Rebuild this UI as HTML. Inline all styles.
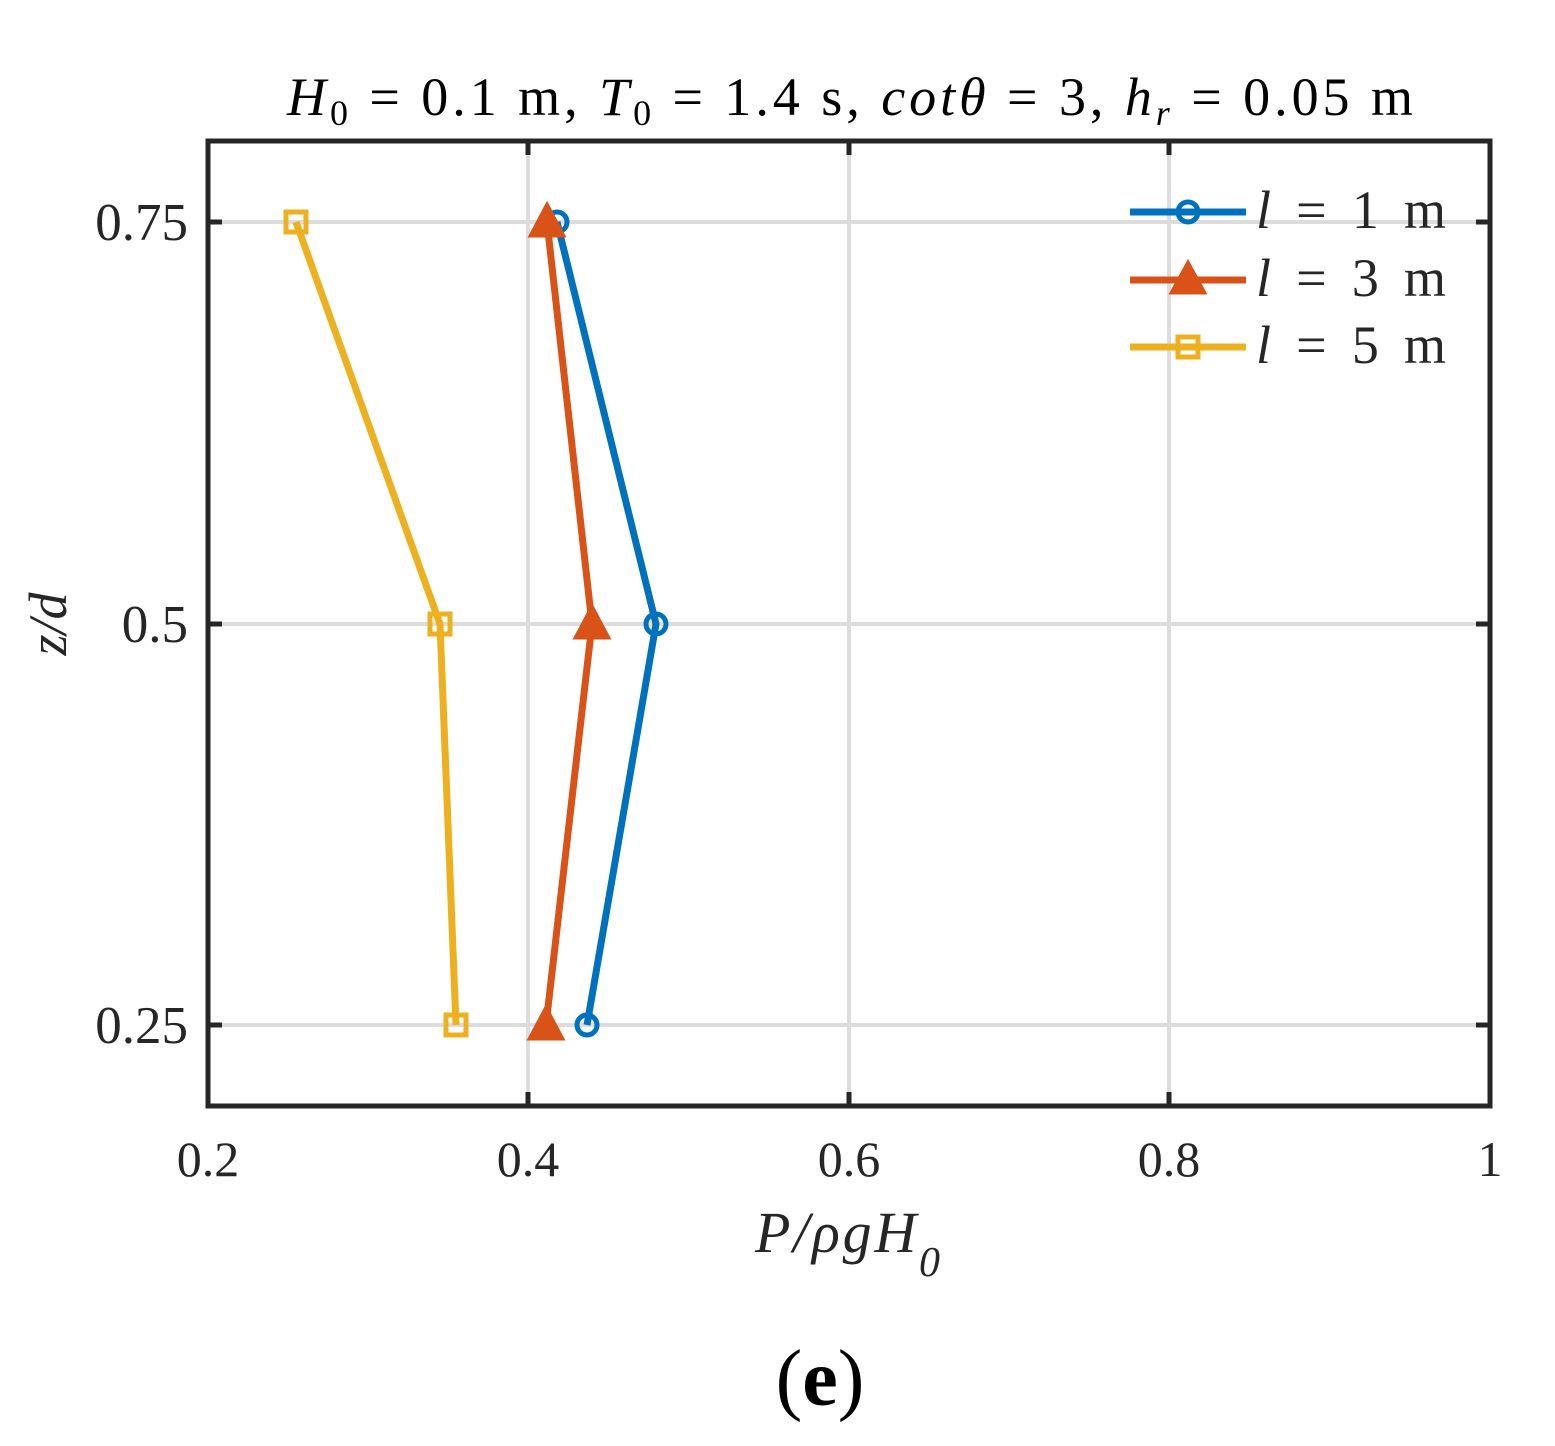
<!DOCTYPE html>
<html><head><style>body{margin:0;background:#fff}svg{display:block}</style></head><body>
<svg width="1555" height="1446" viewBox="0 0 1555 1446" xmlns="http://www.w3.org/2000/svg" font-family="Liberation Serif, serif">
<rect width="1555" height="1446" fill="#fff"/>
<g stroke="#dcdcdc" stroke-width="4">
<line x1="528" y1="141" x2="528" y2="1106"/><line x1="849" y1="141" x2="849" y2="1106"/><line x1="1169" y1="141" x2="1169" y2="1106"/>
<line x1="208" y1="222" x2="1490" y2="222"/><line x1="208" y1="624" x2="1490" y2="624"/><line x1="208" y1="1025" x2="1490" y2="1025"/>
</g>
<g stroke="#262626" stroke-width="5">
<line x1="528" y1="1106" x2="528" y2="1092"/><line x1="849" y1="1106" x2="849" y2="1092"/><line x1="1169" y1="1106" x2="1169" y2="1092"/>
<line x1="528" y1="141" x2="528" y2="155"/><line x1="849" y1="141" x2="849" y2="155"/><line x1="1169" y1="141" x2="1169" y2="155"/>
<line x1="208" y1="222" x2="222" y2="222"/><line x1="208" y1="624" x2="222" y2="624"/><line x1="208" y1="1025" x2="222" y2="1025"/>
<line x1="1490" y1="222" x2="1476" y2="222"/><line x1="1490" y1="624" x2="1476" y2="624"/><line x1="1490" y1="1025" x2="1476" y2="1025"/>
</g>
<rect x="208" y="141" width="1282" height="965" fill="none" stroke="#262626" stroke-width="5"/>
<g fill="none" stroke-width="7" stroke-linejoin="round">
<polyline points="557,222 656,624 587,1025" stroke="#0072BD"/>
<polyline points="547,222 592,624 546,1025" stroke="#D95319"/>
<polyline points="296,222 440,624 456,1025" stroke="#EDB120"/>
</g>
<g fill="none" stroke="#0072BD" stroke-width="5">
<circle cx="557" cy="222" r="10"/><circle cx="656" cy="624" r="10"/><circle cx="587" cy="1025" r="10"/>
<circle cx="1188" cy="212" r="10"/>
</g>
<g fill="#D95319" stroke="#D95319" stroke-width="3">
<polygon points="547,204 530,236 564,236"/><polygon points="592,606 575,638 609,638"/><polygon points="546,1007 529,1039 563,1039"/>
<polygon points="1188,262 1171,293 1205,293"/>
</g>
<g fill="none" stroke="#EDB120" stroke-width="5">
<rect x="286" y="212" width="20" height="20"/><rect x="430" y="614" width="20" height="20"/><rect x="446" y="1015" width="20" height="20"/>
<rect x="1178" y="337" width="20" height="20"/>
</g>
<line x1="1130" y1="212" x2="1246" y2="212" stroke="#0072BD" stroke-width="7"/>
<line x1="1130" y1="280" x2="1246" y2="280" stroke="#D95319" stroke-width="7"/>
<line x1="1130" y1="347" x2="1246" y2="347" stroke="#EDB120" stroke-width="7"/>
<g font-size="54" fill="#262626">
<text x="1256" y="228" textLength="190" lengthAdjust="spacing"><tspan font-style="italic">l</tspan> = 1 m</text>
<text x="1256" y="296" textLength="190" lengthAdjust="spacing"><tspan font-style="italic">l</tspan> = 3 m</text>
<text x="1256" y="363" textLength="190" lengthAdjust="spacing"><tspan font-style="italic">l</tspan> = 5 m</text>
</g>
<g font-size="50" fill="#262626" text-anchor="middle">
<text x="208" y="1176">0.2</text><text x="528" y="1176">0.4</text><text x="849" y="1176">0.6</text><text x="1169" y="1176">0.8</text><text x="1490" y="1176">1</text>
</g>
<g font-size="53" fill="#262626" text-anchor="end">
<text x="188" y="240">0.75</text><text x="188" y="642">0.5</text><text x="188" y="1043">0.25</text>
</g>
<text x="755" y="1252" font-size="58" font-style="italic" fill="#262626" textLength="185" lengthAdjust="spacing">P/ρgH<tspan font-size="42" dy="24">0</tspan></text>
<text transform="translate(66,624) rotate(-90)" font-size="54" font-style="italic" fill="#262626" text-anchor="middle">z/d</text>
<text x="287" y="115" font-size="54" fill="#000" textLength="1126" lengthAdjust="spacing"><tspan font-style="italic">H</tspan><tspan font-size="36" dy="10">0</tspan><tspan dy="-10"> = 0.1 m, </tspan><tspan font-style="italic">T</tspan><tspan font-size="36" dy="10">0</tspan><tspan dy="-10"> = 1.4 s, </tspan><tspan font-style="italic">cotθ</tspan><tspan> = 3, </tspan><tspan font-style="italic">h</tspan><tspan font-size="36" font-style="italic" dy="10">r</tspan><tspan dy="-10"> = 0.05 m</tspan></text>
<text x="820" y="1405" font-size="80" fill="#000" text-anchor="middle">(<tspan font-weight="bold">e</tspan>)</text>
</svg>
</body></html>
